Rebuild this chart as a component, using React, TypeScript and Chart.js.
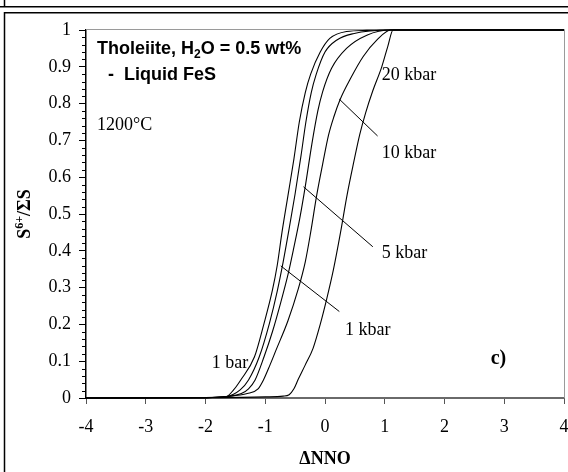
import React, { useEffect, useRef } from "react";
import { Chart, registerables } from "chart.js";
Chart.register(...registerables);

// ---------- data ----------
const xTicks = [-4, -3, -2, -1, 0, 1, 2, 3, 4];
const yTicks = [0, 0.1, 0.2, 0.3, 0.4, 0.5, 0.6, 0.7, 0.8, 0.9, 1];
const yTickLabels = ["0", "0.1", "0.2", "0.3", "0.4", "0.5", "0.6", "0.7", "0.8", "0.9", "1"];

// 1 bar
const bar1X = [-4, -2, -1.65, -1.53, -1.41, -1.18, -1.02, -0.88, -0.8, -0.72, -0.62, -0.52, -0.43, -0.33, -0.24, -0.08, 0.08, 0.36, 0.7, 1.1, 4];
const bar1Y = [0, 0.001, 0.004, 0.022, 0.049, 0.112, 0.203, 0.293, 0.36, 0.45, 0.55, 0.65, 0.75, 0.83, 0.88, 0.94, 0.977, 0.996, 0.999, 1, 1];
// 1 kbar
const kbar1X = [-4, -2, -1.65, -1.42, -1.28, -1.1, -0.93, -0.8, -0.7, -0.6, -0.5, -0.4, -0.32, -0.23, -0.15, 0, 0.2, 0.47, 1.1, 4];
const kbar1Y = [0, 0.001, 0.004, 0.022, 0.049, 0.112, 0.203, 0.29, 0.37, 0.46, 0.555, 0.66, 0.75, 0.83, 0.878, 0.94, 0.973, 0.99, 1, 1];
// 5 kbar
const kbar5X = [-4, -2, -1.65, -1.4, -1.28, -1.17, -1.02, -0.88, -0.74, -0.62, -0.52, -0.42, -0.33, -0.22, -0.12, -0.04, 0.11, 0.36, 0.7, 1.1, 4];
const kbar5Y = [0, 0.001, 0.004, 0.012, 0.025, 0.049, 0.112, 0.18, 0.26, 0.335, 0.41, 0.49, 0.575, 0.69, 0.78, 0.832, 0.896, 0.95, 0.986, 1, 1];
// 10 kbar
const kbar10X = [-4, -2, -1.65, -1.3, -1.12, -1.03, -0.92, -0.82, -0.62, -0.45, -0.33, -0.24, -0.14, -0.04, 0.06, 0.15, 0.25, 0.42, 0.64, 0.87, 1.1, 4];
const kbar10Y = [0, 0.001, 0.004, 0.012, 0.025, 0.049, 0.09, 0.13, 0.21, 0.295, 0.37, 0.45, 0.55, 0.635, 0.715, 0.765, 0.81, 0.866, 0.928, 0.973, 1, 1];
// 20 kbar
const kbar20X = [-4, -2, -1.0, -0.7, -0.6, -0.52, -0.45, -0.33, -0.2, -0.08, 0.03, 0.14, 0.26, 0.37, 0.48, 0.58, 0.68, 0.8, 0.95, 1.05, 1.14, 4];
const kbar20Y = [0, 0.001, 0.003, 0.005, 0.009, 0.025, 0.05, 0.09, 0.135, 0.2, 0.27, 0.348, 0.45, 0.552, 0.64, 0.715, 0.775, 0.835, 0.9, 0.955, 1, 1];

// leader lines
const ptr1kX = [-0.74, 0.24];
const ptr1kY = [0.359, 0.235];
const ptr5kX = [-0.36, 0.8];
const ptr5kY = [0.574, 0.411];
const ptr10kX = [0.24, 0.88];
const ptr10kY = [0.812, 0.712];

// curve labels
const curveLabels = ["1 bar", "1 kbar", "5 kbar", "10 kbar", "20 kbar"];
const labelX = [-1.896, 0.335, 0.95, 0.95, 0.95];
const labelY = [0.0815, 0.171, 0.38, 0.652, 0.864];

const SERIF = "'Liberation Serif', 'Times New Roman', serif";
const SANS = "'Liberation Sans', Arial, sans-serif";

const pts = (xs: number[], ys: number[]) => xs.map((x, i) => ({ x, y: ys[i] }));

export default function App() {
  const ref = useRef<HTMLCanvasElement>(null);

  useEffect(() => {
    document.body.style.margin = "0";
    const canvas = ref.current!;
    const curve = (label: string, xs: number[], ys: number[]) => ({
      label,
      data: pts(xs, ys),
      borderColor: "#000",
      borderWidth: 1.1,
      pointRadius: 0,
      fill: false,
      cubicInterpolationMode: "monotone" as const,
      clip: 4,
    });
    const ptr = (xs: number[], ys: number[]) => ({
      label: "",
      data: pts(xs, ys),
      borderColor: "#000",
      borderWidth: 1,
      pointRadius: 0,
      fill: false,
      tension: 0,
    });

    const decor = {
      id: "decor",
      beforeDraw(chart: any) {
        const ctx = chart.ctx;
        ctx.save();
        ctx.fillStyle = "#fff";
        ctx.fillRect(0, 0, chart.width, chart.height);
        ctx.strokeStyle = "#000";
        ctx.lineWidth = 1.5;
        ctx.beginPath();
        ctx.moveTo(0, 6.75);
        ctx.lineTo(chart.width, 6.75);
        ctx.moveTo(4.5, 0);
        ctx.lineTo(4.5, 7);
        ctx.moveTo(4, 12.75);
        ctx.lineTo(chart.width, 12.75);
        ctx.moveTo(4.5, 12);
        ctx.lineTo(4.5, chart.height);
        ctx.stroke();
        ctx.restore();
      },
      beforeDatasetsDraw(chart: any) {
        const ctx = chart.ctx;
        const a = chart.chartArea;
        ctx.save();
        ctx.strokeStyle = "#9a9a9a";
        ctx.lineWidth = 1;
        ctx.beginPath();
        ctx.moveTo(a.left, a.top - 0.5);
        ctx.lineTo(a.right + 0.5, a.top - 0.5);
        ctx.lineTo(a.right + 0.5, a.bottom);
        ctx.stroke();
        // minor y ticks
        const ys = chart.scales.y;
        ctx.strokeStyle = "#000";
        ctx.lineWidth = 1;
        ctx.beginPath();
        for (let i = 0; i <= 50; i++) {
          if (i % 5 === 0) continue;
          const py = Math.round(ys.getPixelForValue(i * 0.02)) + 0.5;
          ctx.moveTo(a.left - 4, py);
          ctx.lineTo(a.left, py);
        }
        ctx.stroke();
        ctx.restore();
      },
      afterDraw(chart: any) {
        const ctx = chart.ctx;
        const a = chart.chartArea;
        const xs = chart.scales.x;
        const ys = chart.scales.y;
        ctx.save();
        ctx.fillStyle = "#000";
        ctx.textBaseline = "alphabetic";
        ctx.textAlign = "left";
        // curve labels
        ctx.font = `18px ${SERIF}`;
        curveLabels.forEach((t, i) => {
          ctx.fillText(t, xs.getPixelForValue(labelX[i]), ys.getPixelForValue(labelY[i]));
        });
        // 1200°C
        ctx.fillText("1200°C", xs.getPixelForValue(-3.816), ys.getPixelForValue(0.728));
        // title line 1 with subscript
        let px = xs.getPixelForValue(-3.816);
        const py = ys.getPixelForValue(0.935);
        ctx.font = `bold 18px ${SANS}`;
        ctx.fillText("Tholeiite, H", px, py);
        px += ctx.measureText("Tholeiite, H").width;
        ctx.font = `bold 12px ${SANS}`;
        ctx.fillText("2", px, py + 4);
        px += ctx.measureText("2").width;
        ctx.font = `bold 18px ${SANS}`;
        ctx.fillText("O = 0.5 wt%", px, py);
        ctx.fillText("-  Liquid FeS", xs.getPixelForValue(-3.632), ys.getPixelForValue(0.864));
        // c)
        ctx.font = `bold 20px ${SERIF}`;
        ctx.fillText("c)", xs.getPixelForValue(2.774), ys.getPixelForValue(0.092));
        // x title
        ctx.font = `bold 18px ${SERIF}`;
        ctx.textAlign = "center";
        ctx.fillText("ΔNNO", (a.left + a.right) / 2, 463.5);
        // y title rotated with superscript
        ctx.translate(30, (a.top + a.bottom) / 2);
        ctx.rotate(-Math.PI / 2);
        ctx.textAlign = "left";
        const big = `bold 18px ${SERIF}`;
        const small = `bold 12px ${SERIF}`;
        ctx.font = big;
        const w1 = ctx.measureText("S").width;
        const w3 = ctx.measureText("/ΣS").width;
        ctx.font = small;
        const w2 = ctx.measureText("6+").width;
        let tx = -(w1 + w2 + w3) / 2;
        ctx.font = big;
        ctx.fillText("S", tx, 0);
        tx += w1;
        ctx.font = small;
        ctx.fillText("6+", tx, -7);
        tx += w2;
        ctx.font = big;
        ctx.fillText("/ΣS", tx, 0);
        ctx.restore();
      },
    };

    const chart = new Chart(canvas, {
      type: "line",
      data: {
        datasets: [
          curve(curveLabels[0], bar1X, bar1Y),
          curve(curveLabels[1], kbar1X, kbar1Y),
          curve(curveLabels[2], kbar5X, kbar5Y),
          curve(curveLabels[3], kbar10X, kbar10Y),
          curve(curveLabels[4], kbar20X, kbar20Y),
          ptr(ptr1kX, ptr1kY),
          ptr(ptr5kX, ptr5kY),
          ptr(ptr10kX, ptr10kY),
        ] as any,
      },
      options: {
        animation: false,
        responsive: false,
        devicePixelRatio: 1,
        layout: { padding: { top: 30, right: 4, left: 0, bottom: 0 } },
        plugins: { legend: { display: false }, tooltip: { enabled: false } },
        scales: {
          x: {
            type: "linear",
            min: -4,
            max: 4,
            afterBuildTicks: (s: any) => {
              s.ticks = xTicks.map((v) => ({ value: v }));
            },
            afterFit: (s: any) => {
              s.height = 74;
              s.paddingLeft = 0;
              s.paddingRight = 0;
            },
            grid: { drawOnChartArea: false, drawTicks: true, tickLength: 6, color: "#555", lineWidth: 1 },
            border: { display: true, color: "#6a6a6a", width: 2 },
            ticks: {
              autoSkip: false,
              maxRotation: 0,
              padding: 12,
              color: "#000",
              font: { family: SERIF, size: 18 },
              callback: (v: any) => String(v),
            },
          },
          y: {
            type: "linear",
            min: 0,
            max: 1,
            afterBuildTicks: (s: any) => {
              s.ticks = yTicks.map((v) => ({ value: v }));
            },
            afterFit: (s: any) => {
              s.width = 86;
              s.paddingTop = 0;
              s.paddingBottom = 0;
            },
            grid: { drawOnChartArea: false, drawTicks: true, tickLength: 7, color: "#000", lineWidth: 1 },
            border: { display: true, color: "#000", width: 1.5 },
            ticks: {
              autoSkip: false,
              padding: 8,
              color: "#000",
              font: { family: SERIF, size: 18 },
              callback: (v: any) => {
                const i = yTicks.findIndex((t) => Math.abs(t - v) < 1e-6);
                return i >= 0 ? yTickLabels[i] : "";
              },
            },
          },
        },
      },
      plugins: [decor],
    } as any);
    return () => chart.destroy();
  }, []);

  return (
    <div style={{ position: "relative", width: 568, height: 472 }}>
      <canvas ref={ref} width={568} height={472} style={{ display: "block" }} />
    </div>
  );
}
